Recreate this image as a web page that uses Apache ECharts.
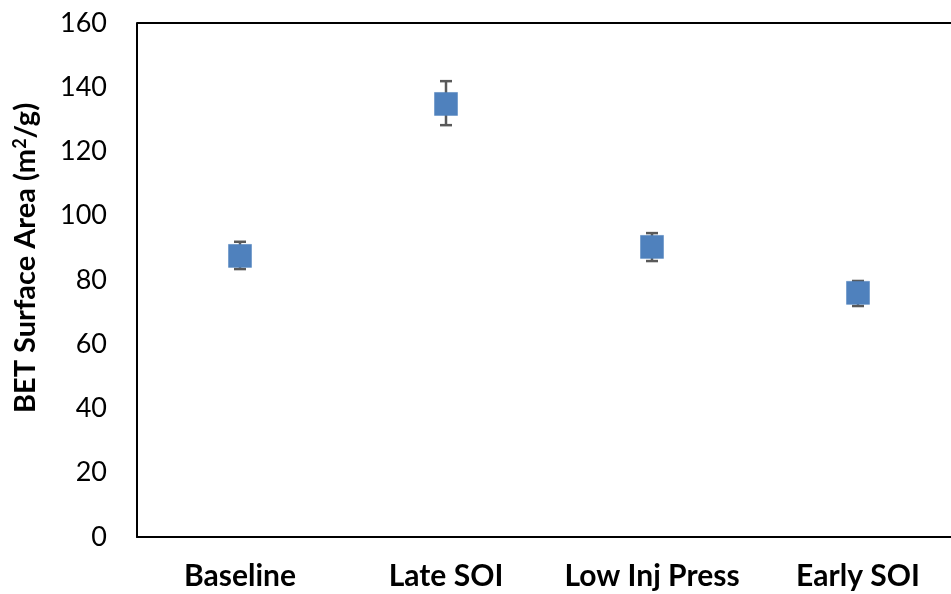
<!DOCTYPE html>
<html>
<head>
<meta charset="utf-8">
<script src="https://cdn.jsdelivr.net/npm/echarts@6/dist/echarts.min.js"></script>
<style>
html,body{margin:0;padding:0;background:#fff;overflow:hidden;}
#chart{width:962px;height:594px;}
</style>
</head>
<body>
<div id="chart"></div>
<script>
const categories = ['Baseline', 'Late SOI', 'Low Inj Press', 'Early SOI'];
const means = [87.5, 134.8, 90.3, 76.0];
const lowErr = [83.4, 128.2, 85.9, 71.9];
const highErr = [91.9, 141.9, 94.6, 79.7];
const yTicks = [0, 20, 40, 60, 80, 100, 120, 140, 160];

const FONT = 'Lato';
const chart = echarts.init(document.getElementById('chart'));

const errData = categories.map((c, i) => [i, lowErr[i], highErr[i]]);

chart.setOption({
  animation: false,
  grid: { left: 137, right: 1, top: 23, bottom: 57, containLabel: false },
  xAxis: {
    type: 'category',
    data: categories,
    boundaryGap: true,
    axisLine: { show: true, lineStyle: { color: '#000', width: 2 } },
    axisTick: { show: false },
    axisLabel: { interval: 0, color: '#000', fontFamily: FONT, fontWeight: 'bold', fontSize: 30, margin: 24 },
    splitLine: { show: false }
  },
  yAxis: {
    type: 'value',
    min: yTicks[0],
    max: yTicks[yTicks.length - 1],
    interval: 20,
    axisLine: { show: true, lineStyle: { color: '#000', width: 2 } },
    axisTick: { show: false },
    axisLabel: { color: '#000', fontFamily: FONT, fontSize: 27, margin: 30 },
    splitLine: { show: false },
    name: '{b|BET Surface Area (m}{s|2}{b|/g)}',
    nameLocation: 'middle',
    nameGap: 96,
    nameRotate: 90,
    nameTextStyle: {
      padding: [0, 0, 0, 44],
      rich: {
        b: { fontFamily: FONT, fontWeight: 'bold', fontSize: 29, color: '#000' },
        s: { fontFamily: FONT, fontWeight: 'bold', fontSize: 18, color: '#000', verticalAlign: 'top', padding: [0, 0, 12, 0] }
      }
    }
  },
  graphic: [
    { type: 'line', shape: { x1: 137, y1: 23, x2: 962, y2: 23 }, style: { stroke: '#000', lineWidth: 2 } }
  ],
  series: [
    {
      type: 'custom',
      z: 1,
      data: errData,
      renderItem: function (params, api) {
        const x = api.value(0);
        const lo = api.coord([x, api.value(1)]);
        const hi = api.coord([x, api.value(2)]);
        const cap = 6;
        const st = { stroke: '#595959', lineWidth: 2.5 };
        return {
          type: 'group',
          children: [
            { type: 'line', shape: { x1: lo[0], y1: lo[1], x2: hi[0], y2: hi[1] }, style: st },
            { type: 'line', shape: { x1: hi[0] - cap, y1: hi[1], x2: hi[0] + cap, y2: hi[1] }, style: st },
            { type: 'line', shape: { x1: lo[0] - cap, y1: lo[1], x2: lo[0] + cap, y2: lo[1] }, style: st }
          ]
        };
      }
    },
    {
      type: 'scatter',
      z: 2,
      data: means,
      symbol: 'rect',
      symbolSize: 23,
      itemStyle: { color: '#4F81BD', borderColor: '#4F81BD', borderWidth: 0.5, opacity: 1 }
    }
  ]
});
</script>
</body>
</html>
